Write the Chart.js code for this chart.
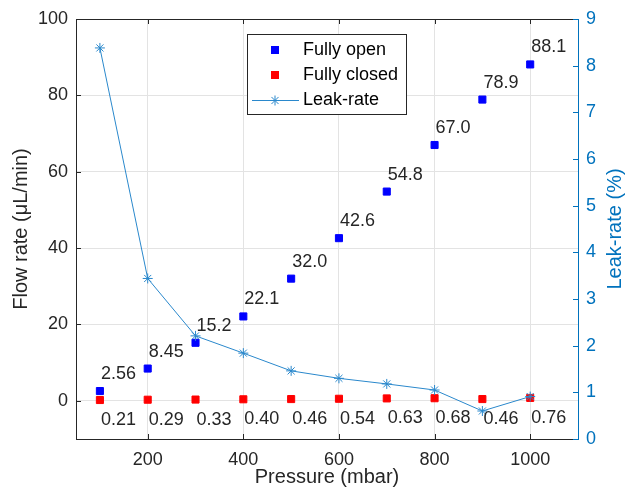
<!DOCTYPE html>
<html>
<head>
<meta charset="utf-8">
<script src="https://cdn.jsdelivr.net/npm/chart.js@4.4.1/dist/chart.umd.min.js"></script>
<style>
  html, body { margin: 0; padding: 0; background: #fff; }
  #wrap { width: 625px; height: 495px; }
</style>
</head>
<body>
<div id="wrap"><canvas id="chart" width="625" height="495"></canvas></div>
<script>
// Dane z wykresu
const pressure = [100, 200, 300, 400, 500, 600, 700, 800, 900, 1000];
const fullyOpen = [2.56, 8.45, 15.2, 22.1, 32.0, 42.6, 54.8, 67.0, 78.9, 88.1];
const fullyClosed = [0.21, 0.29, 0.33, 0.40, 0.46, 0.54, 0.63, 0.68, 0.46, 0.76];
const leakRate = [8.38, 3.44, 2.21, 1.84, 1.46, 1.30, 1.18, 1.05, 0.60, 0.91];
const openLabels = ['2.56', '8.45', '15.2', '22.1', '32.0', '42.6', '54.8', '67.0', '78.9', '88.1'];
const closedLabels = ['0.21', '0.29', '0.33', '0.40', '0.46', '0.54', '0.63', '0.68', '0.46', '0.76'];
const xTicks = [200, 400, 600, 800, 1000];
const leftTicks = [0, 20, 40, 60, 80, 100];
const rightTicks = [0, 1, 2, 3, 4, 5, 6, 7, 8, 9];

const BLUE_AXIS = '#0072BD';
const LEAK_LINE = '#2a88cc';
const TEXT = '#262626';
const FONT = '"Liberation Sans", Arial, sans-serif';

Chart.defaults.font.family = FONT;
Chart.defaults.font.size = 18;
Chart.defaults.color = TEXT;

const toPoints = (ys) => pressure.map((x, i) => ({ x, y: ys[i] }));

function line(ctx, x1, y1, x2, y2) {
    ctx.beginPath();
    ctx.moveTo(x1, y1);
    ctx.lineTo(x2, y2);
    ctx.stroke();
}

// Ramka, znaczniki, etykiety, legenda i tytuły osi
const decorPlugin = {
    id: 'decor',
    afterDatasetsDraw(chart) {
        const ctx = chart.ctx;
        ctx.save();
        ctx.font = '18px ' + FONT;
        ctx.fillStyle = TEXT;
        ctx.textAlign = 'left';
        ctx.textBaseline = 'middle';
        chart.getDatasetMeta(0).data.forEach((pt, i) => {
            ctx.fillText(openLabels[i], pt.x + 1, pt.y - 17);
        });
        chart.getDatasetMeta(1).data.forEach((pt, i) => {
            ctx.fillText(closedLabels[i], pt.x + 1, pt.y + 20);
        });
        ctx.restore();
    },
    afterDraw(chart) {
        const { ctx, chartArea: a, scales } = chart;
        ctx.save();
        ctx.lineWidth = 1;

        // górna krawędź
        ctx.strokeStyle = TEXT;
        line(ctx, a.left, a.top + 0.5, a.right, a.top + 0.5);

        // znaczniki skierowane do środka
        xTicks.forEach(v => {
            const x = Math.round(scales.x.getPixelForValue(v)) + 0.5;
            line(ctx, x, a.bottom, x, a.bottom - 5);
            line(ctx, x, a.top, x, a.top + 5);
        });
        leftTicks.forEach(v => {
            const y = Math.round(scales.y.getPixelForValue(v)) + 0.5;
            line(ctx, a.left, y, a.left + 5, y);
        });
        ctx.strokeStyle = BLUE_AXIS;
        rightTicks.forEach(v => {
            const y = Math.round(scales.y1.getPixelForValue(v)) + 0.5;
            line(ctx, a.right, y, a.right - 5, y);
        });

        // legenda
        const lx = 247.5, ly = 34.5, lw = 159, lh = 80;
        ctx.fillStyle = '#fff';
        ctx.fillRect(lx, ly, lw, lh);
        ctx.strokeStyle = TEXT;
        ctx.strokeRect(lx, ly, lw, lh);

        const mx = 275;
        const rows = [50, 75, 100];
        ctx.fillStyle = '#0000ff';
        ctx.fillRect(mx - 4, rows[0] - 4, 8, 8);
        ctx.fillStyle = '#ff0000';
        ctx.fillRect(mx - 4, rows[1] - 4, 8, 8);
        ctx.strokeStyle = LEAK_LINE;
        ctx.fillStyle = LEAK_LINE;
        line(ctx, 252, rows[2] + 0.5, 299, rows[2] + 0.5);
        Chart.helpers.drawPoint(ctx, { pointStyle: 'star', radius: 5, rotation: 0, borderWidth: 1 }, mx, rows[2] + 0.5);

        ctx.fillStyle = '#000';
        ctx.font = '18px ' + FONT;
        ctx.textAlign = 'left';
        ctx.textBaseline = 'middle';
        ctx.fillText('Fully open', 303, rows[0]);
        ctx.fillText('Fully closed', 303, rows[1]);
        ctx.fillText('Leak-rate', 303, rows[2]);

        // tytuły osi
        ctx.font = '20px ' + FONT;
        ctx.textAlign = 'center';
        ctx.fillStyle = TEXT;
        ctx.fillText('Pressure (mbar)', (a.left + a.right) / 2, 477);

        const midY = (a.top + a.bottom) / 2;
        ctx.save();
        ctx.translate(21, midY);
        ctx.rotate(-Math.PI / 2);
        ctx.fillText('Flow rate (\u03BCL/min)', 0, 0);
        ctx.restore();

        ctx.save();
        ctx.fillStyle = BLUE_AXIS;
        ctx.translate(615, midY);
        ctx.rotate(-Math.PI / 2);
        ctx.fillText('Leak-rate (%)', 0, 0);
        ctx.restore();

        ctx.restore();
    }
};

new Chart(document.getElementById('chart'), {
    type: 'scatter',
    data: {
        datasets: [
            {
                label: 'Fully open',
                data: toPoints(fullyOpen),
                yAxisID: 'y',
                pointStyle: 'rect',
                pointRadius: 5,
                borderWidth: 1,
                backgroundColor: '#0000ff',
                borderColor: '#0000ff',
                order: 2
            },
            {
                label: 'Fully closed',
                data: toPoints(fullyClosed),
                yAxisID: 'y',
                pointStyle: 'rect',
                pointRadius: 5,
                borderWidth: 1,
                backgroundColor: '#ff0000',
                borderColor: '#ff0000',
                order: 1
            },
            {
                label: 'Leak-rate',
                data: toPoints(leakRate),
                yAxisID: 'y1',
                showLine: true,
                pointStyle: 'star',
                pointRadius: 5,
                borderWidth: 1,
                backgroundColor: LEAK_LINE,
                borderColor: LEAK_LINE,
                order: 0
            }
        ]
    },
    options: {
        responsive: false,
        devicePixelRatio: 1,
        animation: false,
        layout: { padding: { top: 19, left: 0, right: 0, bottom: 0 } },
        plugins: {
            legend: { display: false },
            tooltip: { enabled: false }
        },
        scales: {
            x: {
                type: 'linear',
                min: 50,
                max: 1100,
                afterBuildTicks: s => { s.ticks = xTicks.map(v => ({ value: v })); },
                afterFit: s => { s.height = 56; },
                ticks: { padding: 10, color: TEXT, font: { size: 18 }, callback: v => String(v) },
                grid: { color: '#e3e3e3', drawTicks: false },
                border: { color: TEXT }
            },
            y: {
                position: 'left',
                min: -10,
                max: 100,
                afterBuildTicks: s => { s.ticks = leftTicks.map(v => ({ value: v })); },
                afterFit: s => { s.width = 76; },
                ticks: { padding: 8, color: TEXT, font: { size: 18 }, callback: v => String(v) },
                grid: { color: '#e3e3e3', drawTicks: false },
                border: { color: TEXT }
            },
            y1: {
                position: 'right',
                min: 0,
                max: 9,
                afterBuildTicks: s => { s.ticks = rightTicks.map(v => ({ value: v })); },
                afterFit: s => { s.width = 47; },
                ticks: { padding: 8, color: BLUE_AXIS, font: { size: 18 }, callback: v => String(v) },
                grid: { drawOnChartArea: false, drawTicks: false },
                border: { color: BLUE_AXIS }
            }
        }
    },
    plugins: [decorPlugin]
});
</script>
</body>
</html>
